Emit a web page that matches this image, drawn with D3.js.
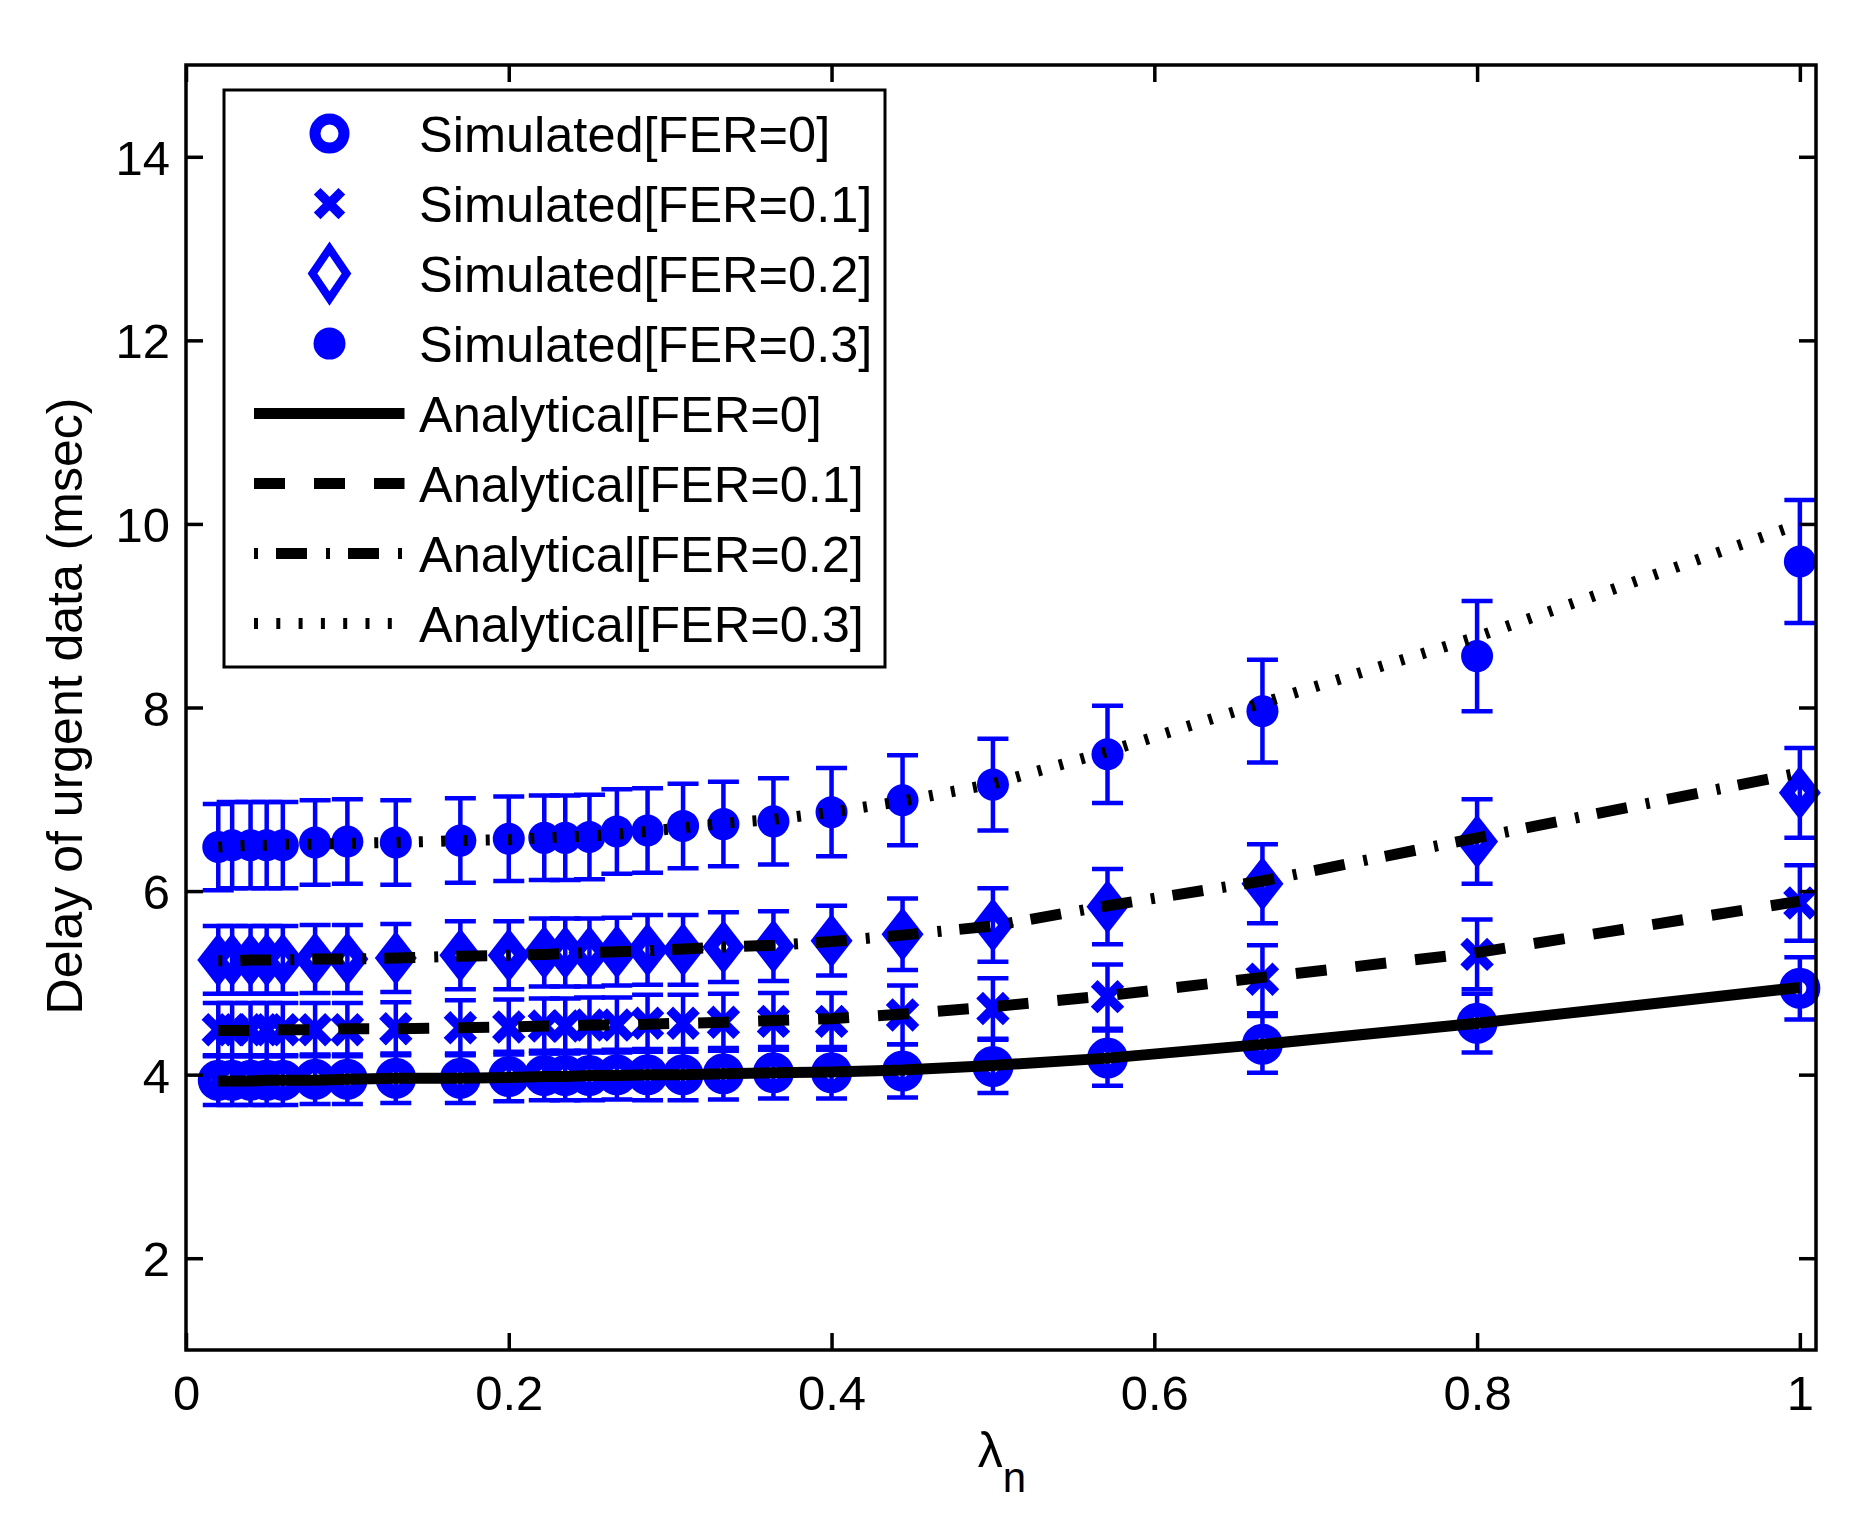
<!DOCTYPE html>
<html>
<head>
<meta charset="utf-8">
<script src="https://cdn.jsdelivr.net/npm/d3@7"></script>
<style>
  body { margin: 0; background: #fff; }
  text { font-family: "Liberation Sans", Arial, Helvetica, sans-serif; fill: #000; }
</style>
</head>
<body>
<svg id="chart" width="1864" height="1532"></svg>
<script>

// x values (lambda_n) shared by every series
var lambdaN = [0.02, 0.0286, 0.04, 0.05, 0.06, 0.08, 0.1, 0.13, 0.17, 0.2, 0.222, 0.235, 0.25,
               0.267, 0.286, 0.308, 0.333, 0.364, 0.4, 0.444, 0.5, 0.571, 0.667, 0.8, 1.0];

// simulated means
var simFer0  = [3.94, 3.94, 3.94, 3.94, 3.94, 3.95, 3.95, 3.96, 3.96, 3.98, 3.99, 3.99, 3.99,
                4.00, 4.00, 4.00, 4.01, 4.02, 4.02, 4.04, 4.09, 4.18, 4.33, 4.56, 4.94];
var simFer01 = [4.49, 4.49, 4.49, 4.49, 4.49, 4.49, 4.49, 4.50, 4.51, 4.52, 4.53, 4.53, 4.54,
                4.54, 4.56, 4.56, 4.57, 4.58, 4.58, 4.65, 4.72, 4.85, 5.04, 5.31, 5.87];
var simFer02 = [5.25, 5.25, 5.25, 5.25, 5.25, 5.26, 5.26, 5.27, 5.30, 5.30, 5.33, 5.33, 5.33,
                5.34, 5.36, 5.36, 5.39, 5.40, 5.46, 5.53, 5.63, 5.83, 6.08, 6.54, 7.07];
var simFer03 = [6.48, 6.50, 6.50, 6.50, 6.50, 6.53, 6.54, 6.53, 6.55, 6.57, 6.58, 6.58, 6.59,
                6.65, 6.66, 6.71, 6.73, 6.76, 6.86, 6.99, 7.16, 7.49, 7.96, 8.56, 9.59];

// simulated error bar half heights
var errFer0  = [0.27, 0.27, 0.27, 0.27, 0.27, 0.27, 0.27, 0.27, 0.27, 0.27, 0.27, 0.27, 0.27,
                0.27, 0.28, 0.28, 0.28, 0.28, 0.28, 0.29, 0.29, 0.30, 0.31, 0.32, 0.34];
var errFer01 = [0.29, 0.29, 0.29, 0.29, 0.29, 0.29, 0.29, 0.29, 0.30, 0.30, 0.30, 0.30, 0.30,
                0.30, 0.31, 0.31, 0.31, 0.31, 0.31, 0.32, 0.33, 0.35, 0.37, 0.38, 0.41];
var errFer02 = [0.37, 0.37, 0.37, 0.37, 0.37, 0.37, 0.37, 0.37, 0.37, 0.37, 0.37, 0.37, 0.37,
                0.37, 0.38, 0.38, 0.38, 0.38, 0.38, 0.39, 0.40, 0.41, 0.43, 0.46, 0.49];
var errFer03 = [0.47, 0.47, 0.47, 0.47, 0.47, 0.46, 0.46, 0.46, 0.46, 0.46, 0.46, 0.46, 0.46,
                0.46, 0.46, 0.46, 0.46, 0.47, 0.48, 0.49, 0.50, 0.53, 0.56, 0.60, 0.67];

// analytical curves
var anaFer0  = [3.93, 3.93, 3.93, 3.94, 3.94, 3.94, 3.95, 3.96, 3.96, 3.97, 3.98, 3.98, 3.99,
                3.99, 4.00, 4.00, 4.01, 4.02, 4.03, 4.05, 4.10, 4.18, 4.33, 4.56, 4.95];
var anaFer01 = [4.48, 4.48, 4.48, 4.49, 4.49, 4.49, 4.50, 4.50, 4.51, 4.52, 4.53, 4.53, 4.54,
                4.54, 4.55, 4.56, 4.57, 4.59, 4.61, 4.66, 4.74, 4.86, 5.06, 5.33, 5.89];
var anaFer02 = [5.24, 5.24, 5.25, 5.25, 5.25, 5.26, 5.26, 5.27, 5.29, 5.30, 5.31, 5.32, 5.33,
                5.34, 5.35, 5.37, 5.39, 5.41, 5.45, 5.52, 5.62, 5.84, 6.11, 6.58, 7.29];
var anaFer03 = [6.48, 6.49, 6.50, 6.50, 6.51, 6.51, 6.52, 6.53, 6.55, 6.56, 6.58, 6.59, 6.60,
                6.62, 6.65, 6.69, 6.74, 6.78, 6.86, 6.98, 7.17, 7.52, 8.05, 8.77, 10.0];

var simLabels = ["Simulated[FER=0]", "Simulated[FER=0.1]", "Simulated[FER=0.2]", "Simulated[FER=0.3]"];
var anaLabels = ["Analytical[FER=0]", "Analytical[FER=0.1]", "Analytical[FER=0.2]", "Analytical[FER=0.3]"];
var xTicks = [0, 0.2, 0.4, 0.6, 0.8, 1];
var yTicks = [2, 4, 6, 8, 10, 12, 14];
var xDomain = [0, 1.01];
var yDomain = [1, 15];

var BLUE = "#0000ff";
var dashes = [null, "31,29", "4,18,31,19", "4,18.3"];
var markers = ["ring", "cross", "diamond", "dot"];

var svg = d3.select("#chart");
var margin = {left: 186, right: 48, top: 65, bottom: 182};
var W = +svg.attr("width")  - margin.left - margin.right,
    H = +svg.attr("height") - margin.top  - margin.bottom;

var x = d3.scaleLinear().domain(xDomain).range([margin.left, margin.left + W]);
var y = d3.scaleLinear().domain(yDomain).range([margin.top + H, margin.top]);


function draw_marker(g, kind, cx, cy, legend){
    if( kind == "ring" ){
        g.append("circle").attr("cx", cx).attr("cy", cy)
            .attr("r", legend ? 14.5 : 13.5)
            .attr("fill", "#fff").attr("stroke", BLUE)
            .attr("stroke-width", legend ? 11 : 14);
    }
    else if( kind == "cross" ){
        let s = legend ? 9 : 10;
        g.append("path")
            .attr("d", "M" + (cx-s) + "," + (cy-s) + "L" + (cx+s) + "," + (cy+s) +
                       "M" + (cx-s) + "," + (cy+s) + "L" + (cx+s) + "," + (cy-s))
            .attr("stroke", BLUE).attr("stroke-width", 9.5)
            .attr("stroke-linecap", "square").attr("fill", "none");
    }
    else if( kind == "diamond" ){
        if( legend ){
            let w = 17, h = 25;
            g.append("path")
                .attr("d", "M" + cx + "," + (cy-h) + "L" + (cx+w) + "," + cy + "L" + cx + "," + (cy+h) + "L" + (cx-w) + "," + cy + "Z")
                .attr("fill", "#fff").attr("stroke", BLUE).attr("stroke-width", 8);
        }
        else{
            let w = 21, h = 27;
            g.append("path")
                .attr("d", "M" + cx + "," + (cy-h) + "L" + (cx+w) + "," + cy + "L" + cx + "," + (cy+h) + "L" + (cx-w) + "," + cy + "Z")
                .attr("fill", BLUE);
            g.append("path")
                .attr("d", "M" + cx + "," + (cy-6) + "L" + (cx+5) + "," + cy + "L" + cx + "," + (cy+6) + "L" + (cx-5) + "," + cy + "Z")
                .attr("fill", "#fff");
        }
    }
    else {
        g.append("circle").attr("cx", cx).attr("cy", cy)
            .attr("r", 16).attr("fill", BLUE);
    }
}


function add_axes(){
    let axG = svg.append("g").attr("class", "axes");

    let bottom = axG.append("g")
        .attr("transform", "translate(0," + (margin.top + H) + ")")
        .call(d3.axisBottom(x).tickValues(xTicks).tickSize(-17).tickSizeOuter(0)
              .tickPadding(25).tickFormat(d3.format("~g")));
    let left = axG.append("g")
        .attr("transform", "translate(" + margin.left + ",0)")
        .call(d3.axisLeft(y).tickValues(yTicks).tickSize(-17).tickSizeOuter(0)
              .tickPadding(16).tickFormat(d3.format("d")));
    let top = axG.append("g")
        .attr("transform", "translate(0," + margin.top + ")")
        .call(d3.axisTop(x).tickValues(xTicks).tickSize(-17).tickSizeOuter(0).tickFormat(""));
    let right = axG.append("g")
        .attr("transform", "translate(" + (margin.left + W) + ",0)")
        .call(d3.axisRight(y).tickValues(yTicks).tickSize(-17).tickSizeOuter(0).tickFormat(""));

    axG.selectAll(".domain").remove();
    axG.selectAll(".tick line").attr("stroke", "#000").attr("stroke-width", 3.5);
    axG.selectAll(".tick text").attr("font-size", "49px").attr("fill", "#000")
        .attr("font-family", "Liberation Sans, Arial, sans-serif");
    left.selectAll(".tick text").attr("dy", "0.36em");

    axG.append("rect")
        .attr("x", margin.left).attr("y", margin.top)
        .attr("width", W).attr("height", H)
        .attr("fill", "none").attr("stroke", "#000").attr("stroke-width", 3.5);

    // axis labels
    let xl = svg.append("text")
        .attr("x", (margin.left + W/2) + 1).attr("y", 1467)
        .attr("text-anchor", "middle").attr("font-size", "50px");
    xl.append("tspan").text("\u03bb");
    xl.append("tspan").attr("dy", 25).attr("font-size", "42px").text("n");

    svg.append("text")
        .attr("transform", "translate(82,706) rotate(-90)")
        .attr("text-anchor", "middle").attr("font-size", "50px")
        .text("Delay of urgent data (msec)");
}


function add_series(){
    let sims = [simFer0, simFer01, simFer02, simFer03];
    let errs = [errFer0, errFer01, errFer02, errFer03];
    let anas = [anaFer0, anaFer01, anaFer02, anaFer03];

    let dataG = svg.append("g").attr("class", "data");

    sims.forEach(function(vals, k){
        let g = dataG.append("g").attr("class", "sim_" + k);
        vals.forEach(function(v, i){
            draw_marker(g, markers[k], x(lambdaN[i]), y(v), false);
        });
        vals.forEach(function(v, i){
            let cx = x(lambdaN[i]), e = errs[k][i];
            let y0 = y(v - e), y1 = y(v + e);
            g.append("path")
                .attr("d", "M" + cx + "," + y0 + "L" + cx + "," + y1 +
                           "M" + (cx-15.5) + "," + y0 + "L" + (cx+15.5) + "," + y0 +
                           "M" + (cx-15.5) + "," + y1 + "L" + (cx+15.5) + "," + y1)
                .attr("stroke", BLUE).attr("stroke-width", 4.5).attr("fill", "none");
        });
    });

    let line = d3.line().x(function(d){ return x(d[0]); }).y(function(d){ return y(d[1]); });
    anas.forEach(function(vals, k){
        let pts = vals.map(function(v, i){ return [lambdaN[i], v]; });
        let p = dataG.append("path")
            .datum(pts)
            .attr("d", line)
            .attr("fill", "none").attr("stroke", "#000")
            .attr("stroke-width", 11).attr("stroke-linecap", "butt");
        if( dashes[k] ) p.attr("stroke-dasharray", dashes[k]);
    });
}


function add_legend(){
    let lg = svg.append("g").attr("class", "legend");
    lg.append("rect")
        .attr("x", 224).attr("y", 90).attr("width", 661).attr("height", 577)
        .attr("fill", "#fff").attr("stroke", "#000").attr("stroke-width", 3);

    let rowY = function(r){ return 133.6 + r*70; };

    simLabels.forEach(function(lab, k){
        draw_marker(lg, markers[k], 329.5, rowY(k), true);
        lg.append("text").attr("x", 419).attr("y", rowY(k) + 18.5)
            .attr("font-size", "50.5px").text(lab);
    });
    anaLabels.forEach(function(lab, k){
        let r = k + 4;
        let p = lg.append("line")
            .attr("x1", 254).attr("x2", 404.5)
            .attr("y1", rowY(r)).attr("y2", rowY(r))
            .attr("stroke", "#000").attr("stroke-width", 11);
        if( dashes[k] ) p.attr("stroke-dasharray", dashes[k]);
        lg.append("text").attr("x", 419).attr("y", rowY(r) + 18.5)
            .attr("font-size", "50.5px").text(lab);
    });
}

add_series();
add_axes();
add_legend();

</script>
</body>
</html>
